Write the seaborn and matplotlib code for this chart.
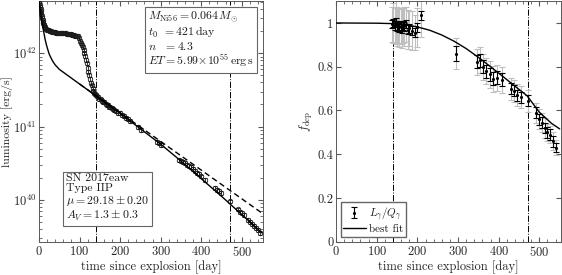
import numpy as np
import matplotlib
matplotlib.use("Agg")
import matplotlib.pyplot as plt
import seaborn as sns
from matplotlib.lines import Line2D
from matplotlib.ticker import AutoMinorLocator, FixedLocator, MultipleLocator

# ---- bolometric light curve ----
obs_day = [1, 2, 3, 4, 5, 6, 7, 8, 9, 10, 11, 12, 13, 14, 15, 16, 18, 20, 22, 24,
           26, 28, 30, 33, 36, 39, 42, 45, 48, 51, 54, 57, 60, 63, 66, 69, 72, 75,
           78, 81, 84, 87, 90, 93, 96, 99, 102, 104, 106, 108, 110, 112, 114, 116,
           118, 120, 122, 124, 126, 128, 130, 132, 134, 136, 138,
           140, 143, 146, 149, 152, 155, 158, 161, 164, 167, 170, 173, 176, 179,
           182, 186, 190, 195, 200, 205, 210, 215, 220, 225, 245, 252,
           292, 297, 300, 345, 350, 355, 360, 365, 370, 375, 380, 385, 390, 395,
           400, 410, 435, 440, 445, 450, 470, 490, 495, 500, 505, 515, 520, 525,
           530, 535, 540, 545]
obs_logL = [42.68, 42.66, 42.63, 42.60, 42.57, 42.54, 42.51, 42.48, 42.45, 42.43,
            42.41, 42.39, 42.38, 42.36, 42.35, 42.34, 42.33, 42.32, 42.31, 42.31,
            42.30, 42.30, 42.30, 42.29, 42.29, 42.29, 42.28, 42.28, 42.28, 42.28,
            42.27, 42.27, 42.27, 42.27, 42.27, 42.26, 42.26, 42.26, 42.26, 42.25,
            42.25, 42.25, 42.24, 42.24, 42.23, 42.21, 42.17, 42.14, 42.11, 42.08,
            42.04, 42.00, 41.96, 41.91, 41.86, 41.80, 41.75, 41.70, 41.65, 41.60,
            41.56, 41.52, 41.49, 41.46, 41.44,
            41.43, 41.41, 41.40, 41.38, 41.37, 41.35, 41.34, 41.33, 41.31, 41.30,
            41.29, 41.27, 41.26, 41.25, 41.24, 41.23, 41.21, 41.19, 41.18, 41.16,
            41.14, 41.12, 41.10, 41.08, 40.99, 40.95,
            40.79, 40.77, 40.75, 40.55, 40.53, 40.52, 40.50, 40.48, 40.46, 40.45,
            40.42, 40.40, 40.37, 40.35, 40.32, 40.27, 40.16, 40.14, 40.12, 40.10,
            39.98, 39.87, 39.84, 39.82, 39.79, 39.73, 39.70, 39.67, 39.65, 39.62,
            39.59, 39.55]
obs_rel_err = 0.06

# model with gamma-ray leakage (solid) and full trapping (dashed)
model_day = [0, 2, 5, 8, 10, 13, 15, 18, 20, 25, 30, 35, 40, 50, 60, 80, 100,
             140, 200, 250, 300, 350, 400, 450, 500, 550]
model_logL = [42.70, 42.62, 42.51, 42.41, 42.34, 42.25, 42.19, 42.12, 42.08,
              41.99, 41.93, 41.88, 41.84, 41.78, 41.74, 41.66, 41.58,
              41.42, 41.18, 40.97, 40.76, 40.53, 40.29, 40.05, 39.80, 39.55]
trap_day = [100, 550]
trap_logL = [41.58, 39.82]

t_peak_end = 140
t_fit_end = 472

# ---- gamma-ray deposition fraction ----
fdep_day = [138, 141, 144, 147, 150, 153, 156, 159, 162, 165, 168, 172, 176,
            180, 187, 195, 200, 210, 294, 347, 355, 362, 370, 378, 386, 395,
            409, 430, 438, 446, 455, 471, 491, 500, 507, 514, 520, 527, 533, 540]
fdep_val = [0.995, 1.000, 0.990, 1.005, 0.985, 0.990, 0.980, 0.985, 0.975,
            0.990, 0.985, 0.995, 0.970, 0.975, 0.965, 0.955, 0.980, 1.035,
            0.860, 0.822, 0.830, 0.800, 0.780, 0.765, 0.745, 0.750, 0.740,
            0.700, 0.690, 0.670, 0.660, 0.645, 0.590, 0.560, 0.545, 0.520,
            0.500, 0.490, 0.460, 0.430]
fdep_err = [0.02, 0.02, 0.02, 0.02, 0.02, 0.02, 0.02, 0.02, 0.02, 0.02, 0.02,
            0.02, 0.02, 0.02, 0.02, 0.02, 0.02, 0.02, 0.035, 0.03, 0.03, 0.03,
            0.03, 0.03, 0.03, 0.03, 0.03, 0.025, 0.025, 0.025, 0.025, 0.025,
            0.025, 0.025, 0.025, 0.025, 0.025, 0.025, 0.025, 0.02]
fdep_err_tot = [0.08, 0.09, 0.08, 0.10, 0.09, 0.08, 0.09, 0.08, 0.09, 0.08,
                0.09, 0.08, 0.09, 0.08, 0.09, 0.08, 0.09, 0.10, 0.07, 0.06,
                0.06, 0.06, 0.06, 0.06, 0.06, 0.06, 0.06, 0.05, 0.05, 0.05,
                0.05, 0.05, 0.045, 0.045, 0.045, 0.045, 0.04, 0.04, 0.04, 0.035]
fit_day = [0, 100, 140, 170, 200, 230, 260, 290, 320, 350, 380, 410, 440, 470,
           500, 530, 550]
fit_val = [1.000, 0.999, 0.997, 0.992, 0.982, 0.967, 0.945, 0.917, 0.883,
           0.843, 0.800, 0.756, 0.711, 0.667, 0.592, 0.541, 0.516]

sns.set_style("ticks")
plt.rcParams.update({
    "font.family": "serif",
    "font.serif": ["cmr10"],
    "mathtext.fontset": "cm",
    "axes.formatter.use_mathtext": True,
    "font.size": 9,
    "xtick.direction": "in",
    "ytick.direction": "in",
    "xtick.top": True,
    "ytick.right": True,
    "xtick.major.pad": 2.5,
    "ytick.major.pad": 2,
    "axes.edgecolor": "0.35",
    "xtick.color": "0.35",
    "ytick.color": "0.35",
    "xtick.labelcolor": "0.15",
    "ytick.labelcolor": "0.15",
    "axes.labelcolor": "0.15",
    "text.color": "0.1",
    "axes.linewidth": 0.7,
})

fig = plt.figure(figsize=(5.62, 2.75), dpi=100)
ax1 = fig.add_axes([0.0694, 0.121, 0.399, 0.875])
ax2 = fig.add_axes([0.598, 0.121, 0.400, 0.875])

# ---- left panel ----
obs_L = 10 ** np.array(obs_logL)
ax1.errorbar(obs_day, obs_L, yerr=obs_L * obs_rel_err, fmt="o", ms=3.2,
             mfc="none", mec="0.1", mew=0.6, ecolor="0.1", elinewidth=0.6,
             capsize=1.5, capthick=0.6, zorder=3)
sns.lineplot(x=model_day, y=10 ** np.array(model_logL), ax=ax1, color="k",
             lw=1.0, zorder=4)
sns.lineplot(x=trap_day, y=10 ** np.array(trap_logL), ax=ax1, color="k",
             lw=1.0, ls=(0, (4, 2.5)), zorder=4)
for t in (t_peak_end, t_fit_end):
    ax1.axvline(t, color="k", lw=0.7, ls="-.", zorder=2)
ax1.set_yscale("log")
ax1.set_xlim(0, 553)
ax1.set_ylim(10 ** 39.43, 10 ** 42.71)
ax1.xaxis.set_major_locator(MultipleLocator(100))
ax1.xaxis.set_minor_locator(AutoMinorLocator(5))
ax1.set_xlabel("time since explosion [day]", labelpad=1)
ax1.set_ylabel("luminosity [erg/s]", labelpad=0, fontsize=8.5)

ax1.text(0.485, 0.965,
         "$M_{\\rm Ni56} = 0.064\\,M_{\\odot}$\n"
         "$t_0\\ \\,= 421\\,\\mathrm{day}$\n"
         "$n\\ \\ \\,= 4.3$\n"
         "$ET = 5.99{\\times}10^{55}\\,\\mathrm{erg\\,s}$",
         transform=ax1.transAxes, ha="left", va="top", fontsize=8.5,
         linespacing=1.05,
         bbox=dict(boxstyle="square,pad=0.25", fc="white", ec="0.4", lw=0.8),
         zorder=6)
ax1.text(0.12, 0.285,
         "SN 2017eaw\nType IIP\n$\\mu = 29.18 \\pm 0.20$\n$A_V = 1.3 \\pm 0.3$",
         transform=ax1.transAxes, ha="left", va="top", fontsize=8.5,
         linespacing=1.1,
         bbox=dict(boxstyle="square,pad=0.25", fc="white", ec="0.4", lw=0.8),
         zorder=6)

# ---- right panel ----
ax2.errorbar(fdep_day, fdep_val, yerr=fdep_err_tot, fmt="none", ecolor="0.75",
             elinewidth=0.8, capsize=2.2, capthick=0.8, zorder=2)
eb = ax2.errorbar(fdep_day, fdep_val, yerr=fdep_err, fmt=".", ms=2.5,
                  color="k", elinewidth=0.8, capsize=2.2, capthick=0.8,
                  zorder=3)
sns.lineplot(x=fit_day, y=fit_val, ax=ax2, color="k", lw=1.0, zorder=4)
for t in (t_peak_end, t_fit_end):
    ax2.axvline(t, color="k", lw=0.7, ls="-.", zorder=1)
ax2.set_xlim(0, 553)
ax2.set_ylim(0, 1.1)
ax2.xaxis.set_major_locator(MultipleLocator(100))
ax2.xaxis.set_minor_locator(AutoMinorLocator(5))
ax2.yaxis.set_major_locator(FixedLocator([0, 0.2, 0.4, 0.6, 0.8, 1.0]))
ax2.set_yticklabels(["0", "0.2", "0.4", "0.6", "0.8", "1"])
ax2.set_xlabel("time since explosion [day]", labelpad=1)
ax2.set_ylabel("$f_{\\rm dep}$", labelpad=2)

fit_handle = Line2D([], [], color="k", lw=1.0)
ax2.legend([eb, fit_handle], ["$L_\\gamma/Q_\\gamma$", "best fit"],
           loc="lower left", bbox_to_anchor=(0.02, 0.02), fontsize=8,
           frameon=True, fancybox=False, framealpha=1, edgecolor="0.4",
           handlelength=2.0, handletextpad=0.3, borderpad=0.25,
           labelspacing=0.15, borderaxespad=0)

fig.savefig("out.png", dpi=100)
